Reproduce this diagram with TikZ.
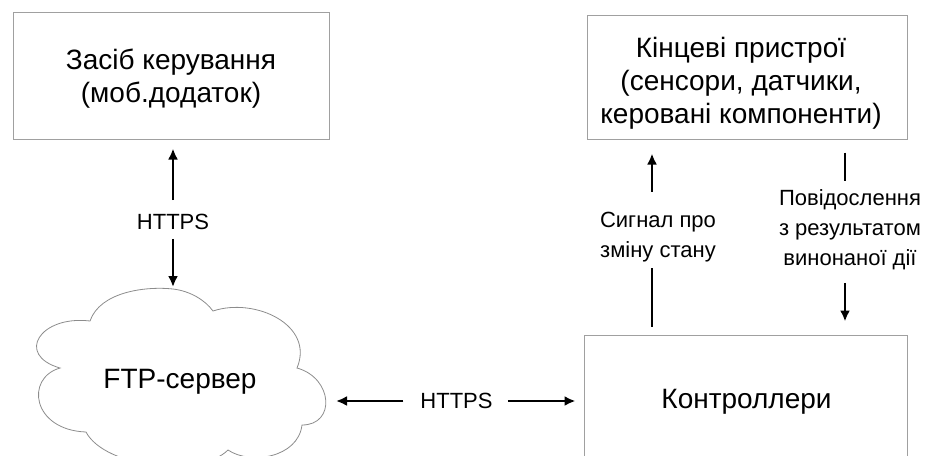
\documentclass[tikz,border=0pt]{standalone}
\usepackage{fontspec}
\setmainfont{Liberation Sans}
\usetikzlibrary{arrows.meta}
\definecolor{framegray}{HTML}{A0A0A0}
\definecolor{cloudgray}{HTML}{8C8C8C}
\begin{document}
\begin{tikzpicture}[x=1pt,y=-1pt,
  blockbox/.style={draw=framegray, line width=1pt, inner sep=0pt},
  bigtext/.style={font=\fontsize{28}{33}\selectfont, align=center, inner sep=0pt},
  smalltext/.style={font=\fontsize{22}{30}\selectfont, align=center, inner sep=0pt},
  link/.style={line width=2.9pt},
  tip/.style={-{Latex[length=11pt,width=10pt]}}]
\useasboundingbox (0,0) rectangle (928,455);
\clip (0,0) rectangle (928,455);

% blocks
\node[blockbox, minimum width=316pt, minimum height=127pt] (mob) at (171,75.5) {};
\node[bigtext] (mobtxt) at (171,79) {Засіб керування\\(моб.додаток)};
\node[blockbox, minimum width=320pt, minimum height=124pt] (dev) at (747,77) {};
\node[bigtext] (devtxt) at (741,83) {Кінцеві пристрої\\(сенсори, датчики,\\керовані компоненти)};
\node[blockbox, minimum width=323pt, minimum height=134pt] (ctrl) at (745.5,402) {};
\node[bigtext] (ctrltxt) at (746.5,402) {Контроллери};

% cloud
\draw[cloudgray, line width=0.8pt]
  (90,321) .. controls (100,292) and (145,286) .. (173,289)
  .. controls (190,291) and (205,300) .. (213,311)
  .. controls (255,297) and (315,325) .. (297,368)
  .. controls (333,378) and (336,425) .. (302,425)
  .. controls (298,458) and (250,465) .. (228,450)
  .. controls (200,478) and (105,468) .. (86,432)
  .. controls (32,430) and (25,378) .. (60,368)
  .. controls (15,355) and (40,315) .. (90,321) -- cycle;
\node[bigtext] (ftp) at (180,382) {FTP-сервер};
\coordinate (cloudtop) at (173,289);
\coordinate (cloudright) at (325,401);

% connector labels
\node[smalltext] (hA) at (173,222) {HTTPS};
\node[smalltext] (hB) at (456.5,401) {HTTPS};
\node[smalltext] (sig) at (658,237) {Сигнал про\\зміну стану};
\node[smalltext] (res) at (850,229.5) {Повідослення\\з результатом\\винонаної дії};
\coordinate (xS) at (652,0);
\coordinate (xR) at (845,0);

% app <-> server
\draw[link, tip, shorten <=14pt, shorten >=9pt] (hA.north) -- (mob.south -| hA);
\draw[link, tip, shorten <=9pt, shorten >=2pt] (hA.south) -- (cloudtop);
% server <-> controllers
\draw[link, tip, shorten <=17pt, shorten >=11pt] (hB.west) -- (cloudright);
\draw[link, tip, shorten <=15pt, shorten >=8pt] (hB.east) -- (ctrl.west |- hB);
% controllers -> end devices
\draw[link, shorten <=8pt, shorten >=6pt] (ctrl.north -| xS) -- (sig.south -| xS);
\draw[link, tip, shorten <=20pt, shorten >=14pt] (sig.north -| xS) -- (dev.south -| xS);
% end devices -> controllers
\draw[link, shorten <=13pt, shorten >=8pt] (dev.south -| xR) -- (res.north -| xR);
\draw[link, tip, shorten <=13pt, shorten >=13pt] (res.south -| xR) -- (ctrl.north -| xR);
\end{tikzpicture}
\end{document}
